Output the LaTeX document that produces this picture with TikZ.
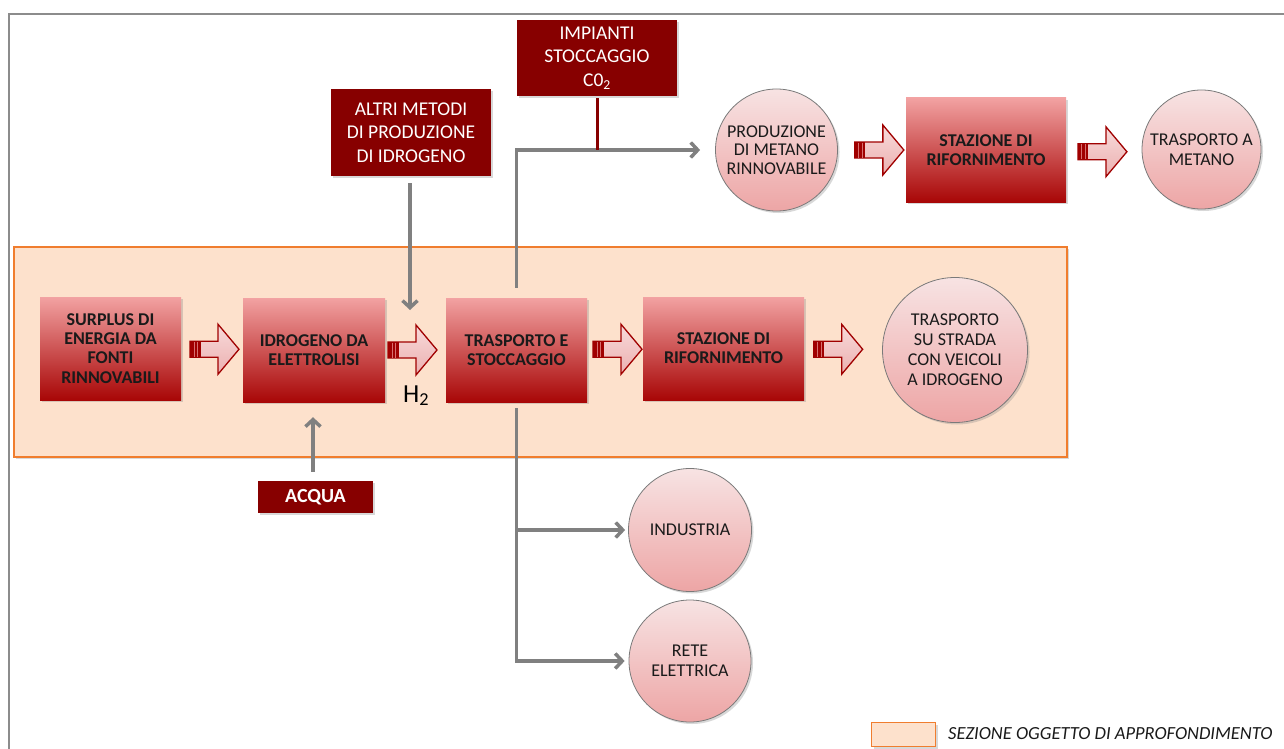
\documentclass[tikz,border=0pt]{standalone}
\usepackage{fontspec}
\setmainfont{Carlito}
\usetikzlibrary{arrows.meta,shadows,calc}
\definecolor{boxtop}{HTML}{F2A2A2}
\definecolor{boxbot}{HTML}{A80606}
\definecolor{darkred}{HTML}{870000}
\definecolor{circtop}{HTML}{F7E3E3}
\definecolor{circbot}{HTML}{EDA5A5}
\definecolor{peach}{HTML}{FDE1CC}
\definecolor{orng}{HTML}{F07D2E}
\definecolor{gline}{HTML}{808080}
\definecolor{txt}{HTML}{1A1A1A}
\definecolor{arrtop}{HTML}{F8DADA}
\definecolor{arrbot}{HTML}{EBB0B0}
\definecolor{arrdraw}{HTML}{A00000}
\definecolor{stripe}{HTML}{D87070}
\definecolor{cborder}{HTML}{7A7A7A}
\definecolor{framegray}{HTML}{8C8C8C}
\tikzset{
  shad/.style={drop shadow={shadow xshift=2pt,shadow yshift=-2pt,opacity=0.3}},
  redbox/.style={rectangle, inner sep=0pt, top color=boxtop, bottom color=boxbot,
    align=center, text=txt, font=\bfseries\fontsize{18}{19}\selectfont, shad},
  darkbox/.style={rectangle, inner sep=0pt, fill=darkred, text=white, align=center,
    font=\fontsize{19.5}{23.5}\selectfont, shad},
  bubble/.style={circle, inner sep=0pt, top color=circtop, bottom color=circbot,
    draw=cborder, line width=0.8pt, align=center, text=txt,
    font=\fontsize{18}{20}\selectfont, shad},
  sectionbox/.style={rectangle, inner sep=0pt, fill=peach, draw=orng, line width=1.6pt, shad},
  garrow/.style={draw=gline, line width=3.5pt, -{Straight Barb[length=7pt,width=15pt]}},
  barrow/.pic={
    \path[top color=arrtop, bottom color=arrbot, draw=arrdraw, line width=1.3pt, line join=miter]
      (-24.5,-8) -- (3.5,-8) -- (3.5,-25) -- (24.5,0) -- (3.5,25) -- (3.5,8) -- (-24.5,8) -- cycle;
    \fill[arrdraw] (-24.5,-8) rectangle (-14,8);
    \draw[stripe, line width=0.9pt] (-20.5,-7.5) -- (-20.5,7.5) (-17,-7.5) -- (-17,7.5);
  }
}
\begin{document}
\begin{tikzpicture}[x=1pt,y=-1pt]
\useasboundingbox (0,0) rectangle (1284,749);
\fill[white] (0,0) rectangle (1284,749);
% frame
\draw[framegray, line width=2pt] (9,749) -- (9,14) -- (1284,14);
% section
\node[sectionbox, minimum width=1053pt, minimum height=210pt] (sez) at (540.5,352) {};
% boxes
\node[redbox, minimum width=141pt, minimum height=103pt, font=\bfseries\fontsize{18}{19.3}\selectfont] (surplus) at (110.5,348.5) {SURPLUS DI\\ENERGIA DA\\FONTI\\RINNOVABILI};
\node[redbox, minimum width=142pt, minimum height=104pt] (idro) at (314,350) {IDROGENO DA\\ELETTROLISI};
\node[redbox, minimum width=141pt, minimum height=104pt] (trasp) at (516.5,350) {TRASPORTO E\\STOCCAGGIO};
\node[redbox, minimum width=161pt, minimum height=103pt] (staz) at (723.5,348.5) {STAZIONE DI\\RIFORNIMENTO};
\node[redbox, minimum width=160pt, minimum height=104pt] (stazm) at (986,150) {STAZIONE DI\\RIFORNIMENTO};
% circles
\node[bubble, minimum size=145pt] (strada) at (955,350) {TRASPORTO\\SU STRADA\\CON VEICOLI\\A IDROGENO};
\node[bubble, minimum size=122pt, font=\fontsize{18}{18.5}\selectfont] (prod) at (776.5,150) {PRODUZIONE\\DI METANO\\RINNOVABILE};
\node[bubble, minimum size=119pt] (metano) at (1201.5,149.5) {TRASPORTO A\\METANO};
\node[bubble, minimum size=123pt] (ind) at (690,530) {INDUSTRIA};
\node[bubble, minimum size=122pt] (rete) at (690,661) {RETE\\ELETTRICA};
% dark boxes
\node[darkbox, minimum width=160pt, minimum height=87pt] (altri) at (411,132.5) {ALTRI METODI\\DI PRODUZIONE\\DI IDROGENO};
\node[darkbox, minimum width=160pt, minimum height=76pt] (imp) at (597,58) {IMPIANTI\\STOCCAGGIO\\C0\textsubscript{2}};
\node[darkbox, minimum width=115pt, minimum height=32pt, font=\bfseries\fontsize{20}{20}\selectfont] (acqua) at (315.5,497) {ACQUA};
% H2 label
\node[anchor=base west, inner sep=0pt, text=black, font=\fontsize{26}{26}\selectfont] (h2) at (403,402) {H\textsubscript{2}};
% block arrows
\path ([xshift=2.5pt]$(surplus.east)!0.5!(idro.west)$) pic {barrow};
\path ([xshift=-3pt]$(idro.east)!0.5!(trasp.west)$) pic {barrow};
\path ([xshift=2.5pt]$(trasp.east)!0.5!(staz.west)$) pic {barrow};
\path ([xshift=-5pt]$(staz.east)!0.5!(strada.west)$) pic {barrow};
\path ([xshift=7.5pt]$(prod.east)!0.5!(stazm.west)$) pic {barrow};
\path ([xshift=-1.5pt,yshift=-2pt]$(stazm.east)!0.5!(metano.west)$) pic {barrow};
% gray connectors
\coordinate (h2in) at (410,310);
\draw[garrow] (altri.south -| h2in) ++(0,7) -- (h2in);
\draw[garrow] ([xshift=-2.5pt,yshift=9pt]acqua.north) -- ([xshift=-1pt,yshift=-15pt]idro.south);
\draw[garrow, shorten >=15pt] ([yshift=10pt]trasp.north) |- (prod.west);
\draw[darkred, line width=3pt] ([yshift=-2pt]imp.south) -- (imp.south |- prod.west);
\draw[garrow, shorten >=4pt] ([yshift=-6pt]trasp.south) |- (rete.west);
\draw[garrow, shorten >=3pt] (trasp.south |- ind.west) -- (ind.west);
% legend
\node[sectionbox, line width=1.8pt, minimum width=64pt, minimum height=24pt] (legbox) at (903.5,734.5) {};
\node[anchor=west, inner sep=0pt, text=txt, font=\itshape\fontsize{18.5}{19}\selectfont] (legtxt) at (948,734) {SEZIONE OGGETTO DI APPROFONDIMENTO};
\end{tikzpicture}
\end{document}
